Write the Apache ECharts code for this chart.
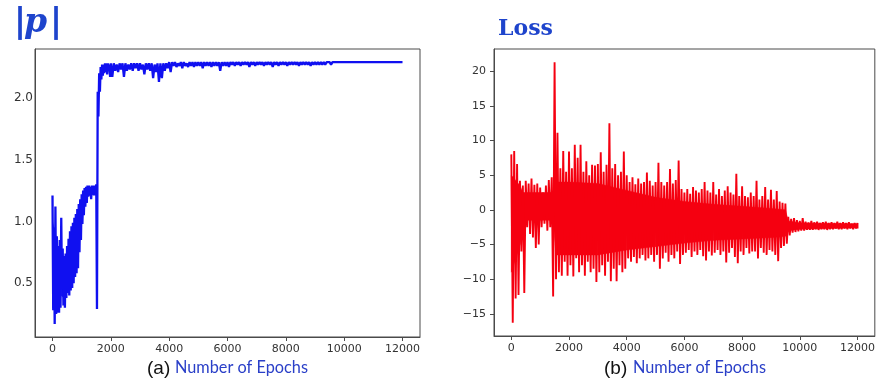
<!DOCTYPE html>
<html><head><meta charset="utf-8">
<script src="https://cdn.jsdelivr.net/npm/echarts@6/dist/echarts.min.js"></script>
<style>html,body{margin:0;padding:0;background:#fff}#c{width:878px;height:383px}</style>
</head><body><div id="c"></div>
<script>
// ---- data ----
const xTickValues = [0, 2000, 4000, 6000, 8000, 10000, 12000];
const pTickValues = [0.5, 1.0, 1.5, 2.0];
const lossTickValues = [-15, -10, -5, 0, 5, 10, 15, 20];

// |p| envelope, epochs 0..1950 every 50 (max / min within each step)
const pEarlyStep = 50;
const pEarlyHi = [1.21,0.95,1.12,0.88,0.80,0.85,1.03,0.78,0.72,0.74,0.80,0.86,0.92,0.96,0.99,1.03,1.06,1.10,1.14,1.18,
                  1.22,1.25,1.27,1.28,1.29,1.29,1.28,1.29,1.29,1.29,1.30,2.05,2.20,2.25,2.27,2.27,2.28,2.28,2.28,2.27];
const pEarlyLo = [0.28,0.17,0.25,0.26,0.26,0.30,0.45,0.32,0.30,0.38,0.42,0.40,0.44,0.46,0.50,0.55,0.58,0.62,0.75,0.85,
                  0.98,1.05,1.12,1.15,1.20,1.21,1.18,1.22,1.21,1.23,0.29,1.85,2.05,2.15,2.18,2.20,2.21,2.19,2.22,2.17];
// |p| envelope, epochs 2000..12000 every 100
const pLateStep = 100;
const pLateHi = [2.28,2.28,2.27,2.28,2.28,2.28,2.27,2.28,2.28,2.28,2.28,2.27,2.28,2.28,2.28,2.27,2.28,2.28,2.28,2.28,
                 2.29,2.29,2.29,2.28,2.29,2.29,2.28,2.29,2.29,2.29,2.29,2.29,2.29,2.29,2.29,2.29,2.29,2.29,2.29,2.29,
                 2.29,2.29,2.29,2.29,2.29,2.29,2.29,2.29,2.29,2.29,2.29,2.29,2.29,2.29,2.29,2.29,2.29,2.29,2.29,2.29,
                 2.29,2.29,2.29,2.29,2.29,2.29,2.29,2.29,2.29,2.29,2.29,2.29,2.29,2.29,2.29,2.29,2.29,2.29,2.29,2.29,
                 2.29,2.29,2.29,2.29,2.29,2.29,2.29,2.29,2.29,2.29,2.29,2.29,2.29,2.29,2.29,2.29,2.29,2.29,2.29,2.29,2.29];
const pLateLo = [2.17,2.22,2.21,2.23,2.17,2.22,2.23,2.22,2.24,2.22,2.23,2.19,2.23,2.22,2.16,2.21,2.13,2.16,2.22,2.24,
                 2.21,2.26,2.25,2.26,2.24,2.26,2.25,2.26,2.25,2.26,2.26,2.24,2.26,2.26,2.25,2.26,2.26,2.22,2.26,2.26,
                 2.25,2.27,2.26,2.27,2.26,2.27,2.27,2.25,2.27,2.26,2.27,2.27,2.26,2.27,2.27,2.25,2.27,2.26,2.27,2.27,
                 2.26,2.27,2.27,2.27,2.26,2.27,2.27,2.27,2.26,2.27,2.27,2.27,2.27,2.27,2.28,2.27,2.28,2.28,2.29,2.29,
                 2.29,2.29,2.29,2.29,2.29,2.29,2.29,2.29,2.29,2.29,2.29,2.29,2.29,2.29,2.29,2.29,2.29,2.29,2.29,2.29,2.29];
// |p| dense (solid) core of the early oscillating part
const pCoreEpochs = [0, 100, 200, 300, 400, 500, 600, 700, 800, 900, 1000, 1100, 1200, 1480];
const pCoreHi     = [1.00, 0.90, 0.74, 0.78, 0.68, 0.74, 0.86, 0.93, 1.00, 1.08, 1.16, 1.24, 1.27, 1.27];
const pCoreLo     = [0.30, 0.30, 0.32, 0.40, 0.38, 0.44, 0.48, 0.52, 0.62, 0.78, 0.98, 1.14, 1.21, 1.22];

// Loss envelope, epochs 0..12000 every 100
const lossStep = 100;
const lossHi = [8.0,8.5,6.6,4.2,3.5,4.2,3.8,4.5,3.6,3.8,3.2,2.5,3.5,4.3,4.7,21.3,11.1,6.0,8.5,5.5,
                8.4,6.0,9.4,7.5,9.4,5.5,7.0,5.0,6.5,6.4,6.6,8.3,5.5,6.5,12.5,6.0,6.6,5.0,5.5,8.4,
                5.0,4.0,4.7,3.7,4.5,3.8,4.0,5.4,4.2,3.5,4.0,6.8,4.0,3.5,4.0,5.9,3.8,4.3,7.1,3.0,
                2.5,3.0,2.3,3.3,2.8,2.5,3.0,4.0,2.8,2.5,4.0,2.2,3.0,2.0,2.8,3.4,2.5,2.2,5.2,2.0,
                3.4,2.0,1.8,2.5,2.0,4.2,1.5,2.0,3.3,1.5,2.9,1.5,2.7,1.2,1.0,0.9,-1.0,-1.3,-1.2,-1.5,
                -1.6,-1.2,-1.7,-1.8,-1.6,-1.8,-1.7,-1.9,-1.8,-1.7,-1.9,-1.8,-1.9,-1.7,-1.9,-1.8,-1.9,-1.8,-2.0,-1.9,-1.9];
const lossLo = [-16.3,-12.8,-12.3,-6.0,-12.0,-2.5,-3.5,-4.0,-5.5,-5.0,-2.5,-2.0,-3.0,-2.5,-12.5,-10.0,-9.0,-9.5,-7.5,-9.5,
                -8.0,-9.6,-7.0,-9.0,-8.0,-9.5,-7.5,-9.0,-8.5,-10.4,-9.0,-8.0,-9.5,-7.5,-10.3,-8.5,-10.3,-8.0,-9.0,-8.5,
                -7.0,-7.5,-6.8,-7.7,-7.0,-6.5,-7.3,-7.0,-6.5,-7.5,-6.5,-8.5,-7.0,-6.2,-7.5,-6.5,-7.0,-6.0,-7.8,-6.5,
                -6.2,-5.8,-6.8,-6.0,-6.5,-5.8,-6.7,-7.3,-6.0,-6.6,-6.2,-5.8,-6.5,-6.0,-7.6,-6.2,-5.5,-6.8,-7.7,-6.0,
                -6.5,-5.5,-6.3,-6.0,-6.0,-7.0,-5.5,-6.2,-6.5,-5.8,-6.0,-6.5,-7.4,-5.5,-5.2,-4.9,-3.7,-3.3,-3.2,-3.1,
                -3.0,-3.0,-2.9,-2.9,-2.9,-2.8,-2.9,-2.8,-2.8,-2.9,-2.8,-2.8,-2.7,-2.8,-2.8,-2.7,-2.8,-2.7,-2.8,-2.7,-2.7];
// Loss dense (solid) core band
const lossCoreEpochs = [0, 300, 400, 1450, 1550, 2000, 3000, 4000, 5000, 6000, 7000, 8000, 9000, 9500, 9600, 10000, 12000];
const lossCoreHi     = [5.0, 3.5, 2.5, 2.5, 4.0, 4.0, 3.8, 2.8, 1.8, 1.2, 0.8, 0.5, 0.2, 0.0, -1.6, -1.9, -2.0];
const lossCoreLo     = [-9.0, -5.0, -1.5, -1.5, -6.5, -6.5, -6.5, -5.8, -5.3, -4.8, -4.4, -4.2, -4.0, -3.8, -3.0, -2.8, -2.6];

// ---- build line points from envelopes (max then min within each step) ----
function zigzag(start, step, hi, lo, end) {
  const pts = [];
  for (let i = 0; i < hi.length; i++) {
    const e = start + i * step;
    pts.push([e, hi[i]]);
    pts.push([Math.min(e + step / 2, end), lo[i]]);
  }
  return pts;
}
const pPoints = zigzag(0, pEarlyStep, pEarlyHi, pEarlyLo, 12000)
  .concat(zigzag(2000, pLateStep, pLateHi, pLateLo, 12000));
const lossPoints = zigzag(0, lossStep, lossHi, lossLo, 12000);

function coreSeries(xi, ep, hi, lo, color) {
  return {
    type: 'custom', xAxisIndex: xi, yAxisIndex: xi, silent: true, z: 2, clip: true,
    data: ep.map((e, i) => [e, hi[i], lo[i]]),
    renderItem: (params, api) => {
      const i = params.dataIndex;
      if (i >= ep.length - 1) return null;
      const pts = [api.coord([ep[i], hi[i]]), api.coord([ep[i + 1], hi[i + 1]]),
                   api.coord([ep[i + 1], lo[i + 1]]), api.coord([ep[i], lo[i]])];
      return { type: 'polygon', shape: { points: pts }, style: { fill: color, stroke: color, lineWidth: 0.5 } };
    }
  };
}

const AX = '#4a4a4a', LB = '#333';
const BLUE = '#1010f0', RED = '#f50010';
const minus = v => String(v).replace('-', '\u2212');
function xAxis(g) {
  return {
    gridIndex: g, type: 'value', min: -600, max: 12600,
    axisLine: { show: true, onZero: false, lineStyle: { color: AX } },
    axisTick: { show: true, customValues: xTickValues, length: 4, lineStyle: { color: AX } },
    axisLabel: { customValues: xTickValues, formatter: v => String(v), fontSize: 11,
                 fontFamily: 'DejaVu Sans', color: LB, margin: 7 },
    splitLine: { show: false }
  };
}
const chart = echarts.init(document.getElementById('c'), null, { renderer: 'canvas' });
chart.setOption({
  animation: false,
  backgroundColor: '#fff',
  grid: [
    { left: 35, top: 49, width: 385, height: 288, show: true, borderColor: AX, borderWidth: 1 },
    { left: 494, top: 49, width: 383, height: 287, show: true, borderColor: AX, borderWidth: 1 }
  ],
  xAxis: [xAxis(0), xAxis(1)],
  yAxis: [
    { gridIndex: 0, type: 'value', min: 0.064, max: 2.396,
      axisLine: { show: true, onZero: false, lineStyle: { color: AX } },
      axisTick: { show: false, customValues: pTickValues },
      axisLabel: { customValues: pTickValues, formatter: v => v.toFixed(1), fontSize: 12,
                   fontFamily: 'DejaVu Sans', color: LB, margin: 2 },
      splitLine: { show: false } },
    { gridIndex: 1, type: 'value', min: -18.2, max: 23.2,
      axisLine: { show: true, onZero: false, lineStyle: { color: AX } },
      axisTick: { show: true, customValues: lossTickValues, length: 4, lineStyle: { color: AX } },
      axisLabel: { customValues: lossTickValues, formatter: minus, fontSize: 11,
                   fontFamily: 'DejaVu Sans', color: LB, margin: 8 },
      splitLine: { show: false } }
  ],
  series: [
    coreSeries(0, pCoreEpochs, pCoreHi, pCoreLo, BLUE),
    { type: 'line', xAxisIndex: 0, yAxisIndex: 0, data: pPoints, showSymbol: false,
      sampling: 'none', lineStyle: { color: BLUE, width: 2.3 }, z: 3 },
    coreSeries(1, lossCoreEpochs, lossCoreHi, lossCoreLo, RED),
    { type: 'line', xAxisIndex: 1, yAxisIndex: 1, data: lossPoints, showSymbol: false,
      sampling: 'none', lineStyle: { color: RED, width: 1.9 }, z: 3 }
  ],
  graphic: [
    { type: 'text', x: 14, y: 7, style: { text: '|', font: 'bold 33px "DejaVu Sans"', fill: '#1e44cc' } },
    { type: 'text', x: 24, y: 7, style: { text: 'p', font: 'italic bold 33px "DejaVu Serif"', fill: '#1e44cc' } },
    { type: 'text', x: 50, y: 7, style: { text: '|', font: 'bold 33px "DejaVu Sans"', fill: '#1e44cc' } },
    { type: 'text', x: 498, y: 18, style: { text: 'Loss', font: 'bold 22px "DejaVu Serif"', fill: '#1e44cc' } },
    { type: 'text', x: 147, y: 359, style: { text: '(a)', font: '19px "Liberation Sans"', fill: '#111' } },
    { type: 'text', x: 175, y: 360, style: { text: 'Number of Epochs', font: '16.3px Lato', fill: '#2a3fc8' } },
    { type: 'text', x: 604, y: 359, style: { text: '(b)', font: '19px "Liberation Sans"', fill: '#111' } },
    { type: 'text', x: 633, y: 360, style: { text: 'Number of Epochs', font: '16.3px Lato', fill: '#2a3fc8' } }
  ]
});
</script></body></html>
